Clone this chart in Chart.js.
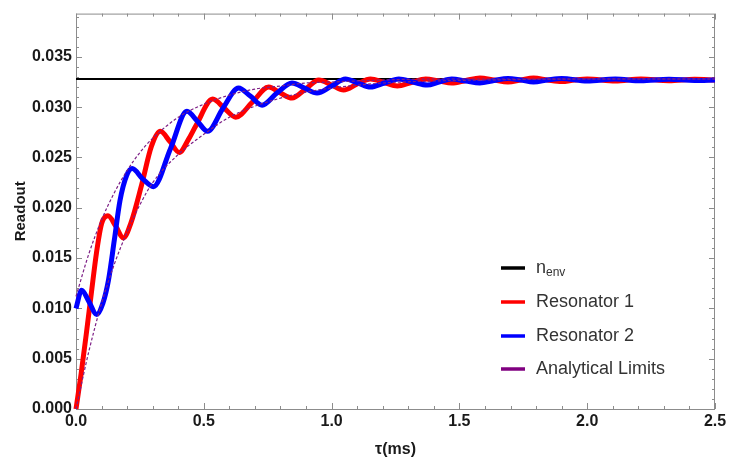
<!DOCTYPE html>
<html>
<head>
<meta charset="utf-8">
<script src="https://cdn.jsdelivr.net/npm/chart.js@4.4.1/dist/chart.umd.min.js"></script>
<style>
  html, body { margin: 0; padding: 0; background: #ffffff; }
</style>
</head>
<body>
<canvas id="readoutGraph" width="731" height="462"></canvas>
<script>
// values (tau in ms, readout)
const nEnvTimes = [0, 2.5];
const nEnvValues = [0.0328, 0.0328];

const res1Times = [0, 0.02, 0.04, 0.06, 0.08, 0.10, 0.125, 0.155, 0.185, 0.215, 0.257, 0.295, 0.33,
    0.367, 0.404, 0.44, 0.47, 0.535, 0.58, 0.625, 0.69, 0.754, 0.80, 0.845, 0.898, 0.95, 1.0, 1.047,
    1.10, 1.152, 1.205, 1.257, 1.312, 1.368, 1.42, 1.47, 1.525, 1.58, 1.635, 1.69, 1.74, 1.79, 1.845,
    1.90, 1.95, 2.00, 2.11, 2.21, 2.32, 2.42, 2.50];
const res1Values = [0, 0.0035, 0.0074, 0.0115, 0.0155, 0.0184, 0.0192, 0.0182, 0.0170, 0.0185, 0.0223, 0.0261, 0.0276,
    0.0266, 0.0255, 0.0268, 0.0282, 0.0308, 0.0299, 0.0290, 0.0305, 0.0320, 0.0314, 0.0309, 0.0318, 0.0327, 0.0322, 0.0317,
    0.0323, 0.0328, 0.03245, 0.0321, 0.03245, 0.0328, 0.0326, 0.0324, 0.03265, 0.0329, 0.0327, 0.0325, 0.0327, 0.0329, 0.0327,
    0.03255, 0.0327, 0.0328, 0.0326, 0.0328, 0.03263, 0.03277, 0.0327];

const res2Times = [0, 0.022, 0.05, 0.081, 0.105, 0.127, 0.15, 0.172, 0.198, 0.22, 0.26, 0.303, 0.37,
    0.434, 0.475, 0.515, 0.575, 0.636, 0.682, 0.728, 0.786, 0.845, 0.894, 0.943, 1.0, 1.054, 1.103,
    1.152, 1.207, 1.263, 1.318, 1.374, 1.42, 1.47, 1.525, 1.58, 1.635, 1.69, 1.74, 1.79, 1.845, 1.90,
    2.00, 2.11, 2.21, 2.32, 2.42, 2.50];
const res2Values = [0.0100, 0.0118, 0.0107, 0.0094, 0.0105, 0.0128, 0.0168, 0.0207, 0.0232, 0.0239, 0.0229, 0.0221, 0.0259,
    0.0296, 0.0286, 0.0276, 0.0299, 0.0319, 0.0311, 0.0302, 0.0314, 0.0324, 0.0319, 0.0314, 0.0321, 0.0328, 0.0324,
    0.0320, 0.0324, 0.0328, 0.0325, 0.0322, 0.0325, 0.0328, 0.0326, 0.0324, 0.03265, 0.03285, 0.0327, 0.0325, 0.0327, 0.03285,
    0.0326, 0.0328, 0.03262, 0.03278, 0.03265, 0.0327];

const limitTimes = [0, 0.05, 0.1, 0.15, 0.2, 0.25, 0.3, 0.4, 0.5, 0.6, 0.7, 0.8, 0.9, 1.0, 1.2, 1.4, 1.6, 2.0, 2.5];
const upperLimit = [0.0112, 0.0154, 0.0188, 0.0215, 0.0237, 0.0255, 0.0269, 0.0290, 0.0303, 0.0312, 0.0318, 0.0321,
    0.0324, 0.0325, 0.0327, 0.0328, 0.0328, 0.0328, 0.0328];
const lowerLimit = [0, 0.0057, 0.0105, 0.0144, 0.0176, 0.0203, 0.0225, 0.0253, 0.0273, 0.0290, 0.0301, 0.0309,
    0.0315, 0.0319, 0.0324, 0.0326, 0.0327, 0.0328, 0.0328];

// axis ticks
const xTicks = [0, 0.5, 1.0, 1.5, 2.0, 2.5];
const yTicks = [0, 0.005, 0.010, 0.015, 0.020, 0.025, 0.030, 0.035];
const xMinorStep = 0.1;
const yMinorStep = 0.001;

// legend entries
const legendLabels = ["n", "Resonator 1", "Resonator 2", "Analytical Limits"];
const legendColors = ["#000000", "#ff0000", "#0000ff", "#800080"];

function to_points(times, values) {
    return times.map((t, i) => ({ x: t, y: values[i] }));
}

// draws the mathematica style frame with inward ticks on all four sides
const framePlugin = {
    id: 'frame',
    beforeDatasetsDraw(chart) {
        const { ctx, chartArea: a, scales: { x, y } } = chart;
        ctx.save();
        ctx.strokeStyle = '#8c8c8c';
        ctx.lineWidth = 1;
        ctx.strokeRect(a.left + 0.5, a.top + 0.5, a.right - a.left - 1, a.bottom - a.top);
        ctx.beginPath();
        const xCount = Math.round((x.max - x.min) / xMinorStep);
        for (let i = 0; i <= xCount; i++) {
            const v = x.min + i * xMinorStep;
            const px = Math.round(x.getPixelForValue(v)) + 0.5;
            const major = xTicks.some(t => Math.abs(t - v) < 1e-6);
            const len = major ? 6 : 3;
            ctx.moveTo(px, a.bottom); ctx.lineTo(px, a.bottom - len);
            ctx.moveTo(px, a.top); ctx.lineTo(px, a.top + len);
        }
        const yCount = Math.floor((y.max - y.min) / yMinorStep + 1e-6);
        for (let i = 0; i <= yCount; i++) {
            const v = y.min + i * yMinorStep;
            const py = Math.round(y.getPixelForValue(v)) + 0.5;
            const major = yTicks.some(t => Math.abs(t - v) < 1e-7);
            const len = major ? 6 : 3;
            ctx.moveTo(a.left, py); ctx.lineTo(a.left + len, py);
            ctx.moveTo(a.right, py); ctx.lineTo(a.right - len, py);
        }
        ctx.stroke();
        ctx.restore();
    }
};

// legend drawn inside the plot area
const legendPlugin = {
    id: 'insideLegend',
    afterDraw(chart) {
        const { ctx } = chart;
        const rows = [268, 302, 336, 369];
        ctx.save();
        ctx.font = '18px "Liberation Sans", Arial, sans-serif';
        ctx.textBaseline = 'middle';
        ctx.fillStyle = '#333333';
        rows.forEach((ry, i) => {
            ctx.strokeStyle = legendColors[i];
            ctx.lineWidth = 3.5;
            ctx.beginPath();
            ctx.moveTo(501, ry);
            ctx.lineTo(525, ry);
            ctx.stroke();
            ctx.fillText(legendLabels[i], 536, ry);
            if (i === 0) {
                const w = ctx.measureText(legendLabels[i]).width;
                ctx.font = '12px "Liberation Sans", Arial, sans-serif';
                ctx.fillText("env", 536 + w, ry + 5);
                ctx.font = '18px "Liberation Sans", Arial, sans-serif';
            }
        });
        ctx.restore();
    }
};

// function to create the readout graph
function create_readout_graph() {
    const tickFont = { family: '"Liberation Sans", Arial, sans-serif', size: 16, weight: 'bold' };
    const datasets = [
        {
            label: "Analytical Limits upper",
            data: to_points(limitTimes, upperLimit),
            borderColor: '#7d1f86',
            borderWidth: 1.2,
            borderDash: [3, 2],
            cubicInterpolationMode: 'monotone',
            order: 0
        },
        {
            label: "Analytical Limits lower",
            data: to_points(limitTimes, lowerLimit),
            borderColor: '#7d1f86',
            borderWidth: 1.2,
            borderDash: [3, 2],
            cubicInterpolationMode: 'monotone',
            order: 0
        },
        {
            label: "Resonator 2",
            data: to_points(res2Times, res2Values),
            borderColor: '#0000ff',
            borderWidth: 5,
            cubicInterpolationMode: 'monotone',
            order: 1
        },
        {
            label: "Resonator 1",
            data: to_points(res1Times, res1Values),
            borderColor: '#ff0000',
            borderWidth: 5,
            cubicInterpolationMode: 'monotone',
            order: 2
        },
        {
            label: "n env",
            data: to_points(nEnvTimes, nEnvValues),
            borderColor: '#000000',
            borderWidth: 2,
            order: 3
        }
    ];
    var config = {
        type: 'line',
        data: { datasets: datasets },
        options: {
            responsive: false,
            animation: false,
            devicePixelRatio: 1,
            clip: false,
            elements: { point: { radius: 0 }, line: { borderCapStyle: 'butt' } },
            layout: { padding: { left: 0, top: 13, right: 16, bottom: 0 } },
            plugins: { legend: { display: false }, tooltip: { enabled: false } },
            scales: {
                x: {
                    type: 'linear',
                    min: 0,
                    max: 2.5,
                    grid: { display: false, drawTicks: false },
                    border: { display: false },
                    afterBuildTicks: scale => { scale.ticks = xTicks.map(v => ({ value: v })); },
                    afterFit: scale => { scale.height = 53; },
                    ticks: {
                        font: tickFont,
                        color: '#1a1a1a',
                        padding: 3,
                        maxRotation: 0,
                        callback: v => v.toFixed(1)
                    },
                    title: {
                        display: true,
                        text: 'τ(ms)',
                        font: { family: '"Liberation Sans", Arial, sans-serif', size: 16, weight: 'bold' },
                        color: '#1a1a1a',
                        padding: { top: 0, bottom: 3 }
                    }
                },
                y: {
                    type: 'linear',
                    min: 0,
                    max: 0.0393,
                    grid: { display: false, drawTicks: false },
                    border: { display: false },
                    afterBuildTicks: scale => { scale.ticks = yTicks.map(v => ({ value: v })); },
                    afterFit: scale => { scale.width = 76; },
                    ticks: {
                        font: tickFont,
                        color: '#1a1a1a',
                        padding: 4,
                        callback: v => v.toFixed(3)
                    },
                    title: {
                        display: true,
                        text: 'Readout',
                        font: { family: '"Liberation Sans", Arial, sans-serif', size: 15, weight: 'bold' },
                        color: '#1a1a1a',
                        padding: { top: 12, bottom: 0 }
                    }
                }
            }
        },
        plugins: [framePlugin, legendPlugin]
    };
    return new Chart("readoutGraph", config);
}

create_readout_graph();
</script>
</body>
</html>
